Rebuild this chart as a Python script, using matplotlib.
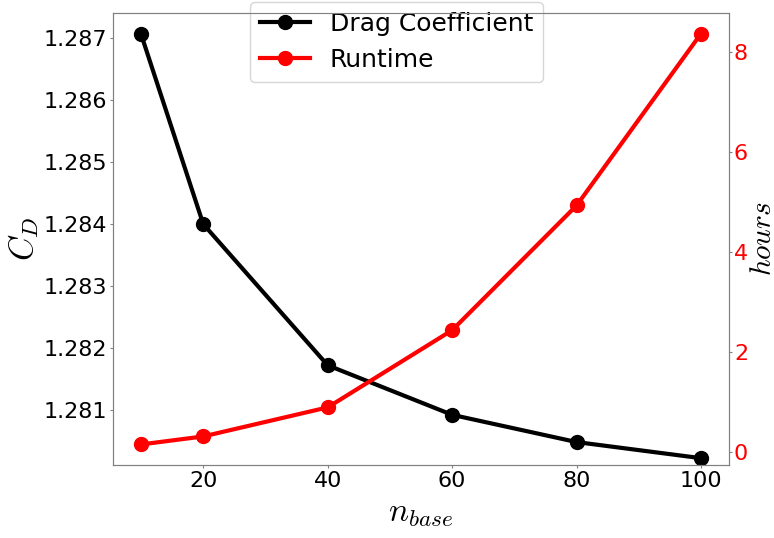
import matplotlib
matplotlib.use('Agg')
import matplotlib.pyplot as plt

plt.rcParams['mathtext.fontset'] = 'cm'

# data
n_base = [10, 20, 40, 60, 80, 100]
drag_coeff = [1.28707, 1.28400, 1.28172, 1.28092, 1.28048, 1.28022]
runtime_hours = [0.16, 0.32, 0.90, 2.44, 4.93, 8.36]

fig = plt.figure(figsize=(7.74, 5.38), dpi=100)
ax = fig.add_axes([0.146, 0.1357, 0.796, 0.8402])
ax2 = ax.twinx()

l1, = ax.plot(n_base, drag_coeff, color='black', lw=3, marker='o', ms=10, label='Drag Coefficient')
l2, = ax2.plot(n_base, runtime_hours, color='red', lw=3, marker='o', ms=10, label='Runtime')

ax.set_ylim(1.28011, 1.28741)
ax.set_xticks([20, 40, 60, 80, 100])
ax.set_yticks([1.281, 1.282, 1.283, 1.284, 1.285, 1.286, 1.287])
ax.set_yticklabels(['1.281', '1.282', '1.283', '1.284', '1.285', '1.286', '1.287'])
ax2.set_yticks([0, 2, 4, 6, 8])

ax.tick_params(axis='both', labelsize=16, color='gray', length=2.5, pad=1.5)
ax2.tick_params(axis='y', labelsize=16, colors='red', length=2.5, pad=1.0)
ax2.tick_params(axis='y', color='gray')

for a in (ax, ax2):
    for s in a.spines.values():
        s.set_color('gray')

ax.set_xlabel(r'$n_{base}$', fontsize=24, labelpad=4)
ax.set_ylabel(r'$C_D$', fontsize=24, labelpad=2)
ax2.set_ylabel(r'$hours$', fontsize=21)
ax2.yaxis.set_label_coords(1.032, 0.5)

ax.legend(handles=[l1, l2], loc='upper center', bbox_to_anchor=(0.512, 0.997),
          bbox_transform=fig.transFigure, borderaxespad=0, fontsize=18)

fig.savefig('out.png', dpi=100)
